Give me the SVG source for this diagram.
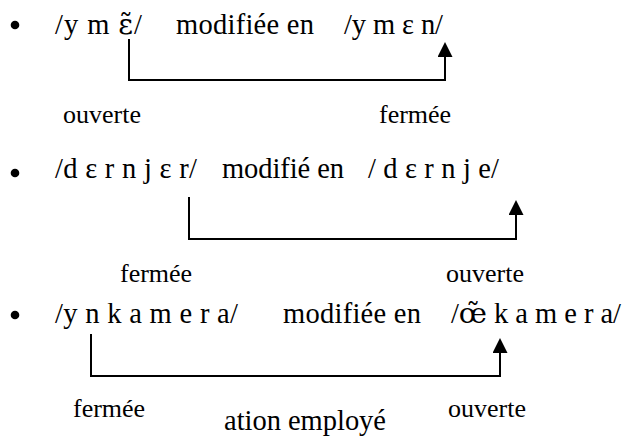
<svg xmlns="http://www.w3.org/2000/svg" width="623" height="439" viewBox="0 0 623 439" font-family="'Liberation Serif', 'Times New Roman', serif">
<style>
.m{font-size:28.5px}
.l{font-size:26px}
.c{fill:none;stroke:#000;stroke-width:2}
.b{fill:#000}
</style>
<defs>
<marker id="ah" viewBox="0 -7.5 15 15" refX="0" refY="0" markerWidth="15" markerHeight="15" orient="auto" markerUnits="userSpaceOnUse">
<path d="M0,-7.5 L15,0 L0,7.5 Z" fill="#000"/>
</marker>
</defs>
<rect width="623" height="439" fill="#fff"/>
<g id="item1" font-family="'Liberation Serif', 'Times New Roman', serif">
<circle class="b" cx="15" cy="25" r="4.3"/>
<text class="m" x="55" y="34" textLength="87" lengthAdjust="spacing">/y m <tspan font-family="'DejaVu Serif', serif">ε̃</tspan>/</text>
<text class="m" x="176" y="34" textLength="138" lengthAdjust="spacing">modifiée en</text>
<text class="m" x="344" y="34" textLength="99" lengthAdjust="spacing">/y m ε n/</text>
<text class="l" x="63" y="123">ouverte</text>
<text class="l" x="379" y="123">fermée</text>
</g>
<g id="item2" font-family="'Liberation Serif', 'Times New Roman', serif">
<circle class="b" cx="15" cy="173" r="4.3"/>
<text class="m" x="55" y="178" textLength="142" lengthAdjust="spacing">/d ε r n j ε r/</text>
<text class="m" x="222" y="178" textLength="122" lengthAdjust="spacing">modifié en</text>
<text class="m" x="368" y="178" textLength="131" lengthAdjust="spacing">/ d ε r n j e/</text>
<text class="l" x="120" y="282">fermée</text>
<text class="l" x="446" y="282">ouverte</text>
</g>
<g id="item3" font-family="'Liberation Serif', 'Times New Roman', serif">
<circle class="b" cx="15" cy="315" r="4.3"/>
<text class="m" x="55" y="323" textLength="183" lengthAdjust="spacing">/y n k a m e r a/</text>
<text class="m" x="283" y="323" textLength="138" lengthAdjust="spacing">modifiée en</text>
<text class="m" x="451" y="323" textLength="170" lengthAdjust="spacing">/<tspan font-family="'DejaVu Serif', serif">œ̃</tspan> k a m e r a/</text>
<text class="l" x="73" y="417">fermée</text>
<text class="m" x="224" y="430" textLength="162" lengthAdjust="spacing">ation employé</text>
<text class="l" x="448" y="417">ouverte</text>
</g>
<g id="connectors">
<path class="c" d="M129,39 V80 H445 V57" marker-end="url(#ah)"/>
<path class="c" d="M189,197 V239 H516 V215" marker-end="url(#ah)"/>
<path class="c" d="M91,334 V376 H500 V353" marker-end="url(#ah)"/>
</g>
</svg>
